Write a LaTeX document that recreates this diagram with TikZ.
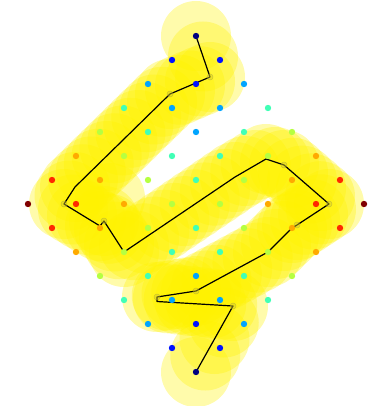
\documentclass[tikz,border=0pt]{standalone}
\usetikzlibrary{calc}
\definecolor{c0}{RGB}{0,0,128}
\definecolor{c1}{RGB}{0,18,255}
\definecolor{c2}{RGB}{0,164,255}
\definecolor{c3}{RGB}{65,255,182}
\definecolor{c4}{RGB}{182,255,65}
\definecolor{c5}{RGB}{255,170,0}
\definecolor{c6}{RGB}{255,40,0}
\definecolor{c7}{RGB}{128,0,0}
\begin{document}
\begin{tikzpicture}[x=1pt,y=-1pt,
  halo/.style={fill=yellow, opacity=0.33},
  trail/.style={draw=black, line width=1.2pt, line join=round},
  mk/.style={fill=yellow!80!black, draw=yellow!55!black, line width=0.5pt, opacity=0.45}]
\useasboundingbox (0,0) rectangle (372,406);
\coordinate (A) at (196,36);
\coordinate (B) at (210,77);
\coordinate (C) at (170,94);
\coordinate (D) at (75,187);
\coordinate (E) at (64,204);
\coordinate (G) at (100,226);
\coordinate (H) at (104,221);
\coordinate (I) at (124,252);
\coordinate (J1) at (235,177);
\coordinate (J) at (266,159);
\coordinate (K) at (284,165);
\coordinate (L) at (329,204);
\coordinate (M) at (297,225);
\coordinate (M2) at (292,228);
\coordinate (N) at (268,252);
\coordinate (O) at (196,291);
\coordinate (P) at (157,297);
\coordinate (P2) at (157,301.5);
\coordinate (Q) at (233,306);
\coordinate (R) at (196,372);
\coordinate (X1) at (110,198);
% translucent halos along the trail
\fill[halo] (A) circle (35pt);
\fill[halo] (X1) circle (35pt);
\foreach \a/\b/\n in {A/B/2, B/C/4, C/D/12, D/E/2, E/G/4, G/H/1, H/I/4, I/J1/11, J1/J/3, J/K/2, K/L/5, L/M/4, M/M2/1, M2/N/3, N/O/7, O/P/4, P/Q/7, Q/R/4}{
  \foreach \k in {1,...,\n}{
    \fill[halo] ($(\a)!\k/\n!(\b)$) circle (35pt);
  }
}
% trail
\draw[trail] (A) -- (B) -- (C) -- (D) -- (E) -- (G) -- (H) -- (I) -- (J1) -- (J) -- (K) -- (L) -- (M) -- (M2) -- (N) -- (O) -- (P) -- (P2) -- (Q) -- (R);
\foreach \p in {B,C,E,H,K,L,M,O,P,Q}{\filldraw[mk] (\p) circle (3pt);}
% grid of coloured dots
\foreach \i in {0,...,7}{
  \foreach \j in {0,...,7}{
    \pgfmathtruncatemacro{\cidx}{(abs(\i-\j)-abs(\i+\j-7)+7)/2}
    \fill[c\cidx] ({196+24*(\i-\j)},{36+24*(\i+\j)}) circle (3.2pt);
  }
}
\end{tikzpicture}
\end{document}
